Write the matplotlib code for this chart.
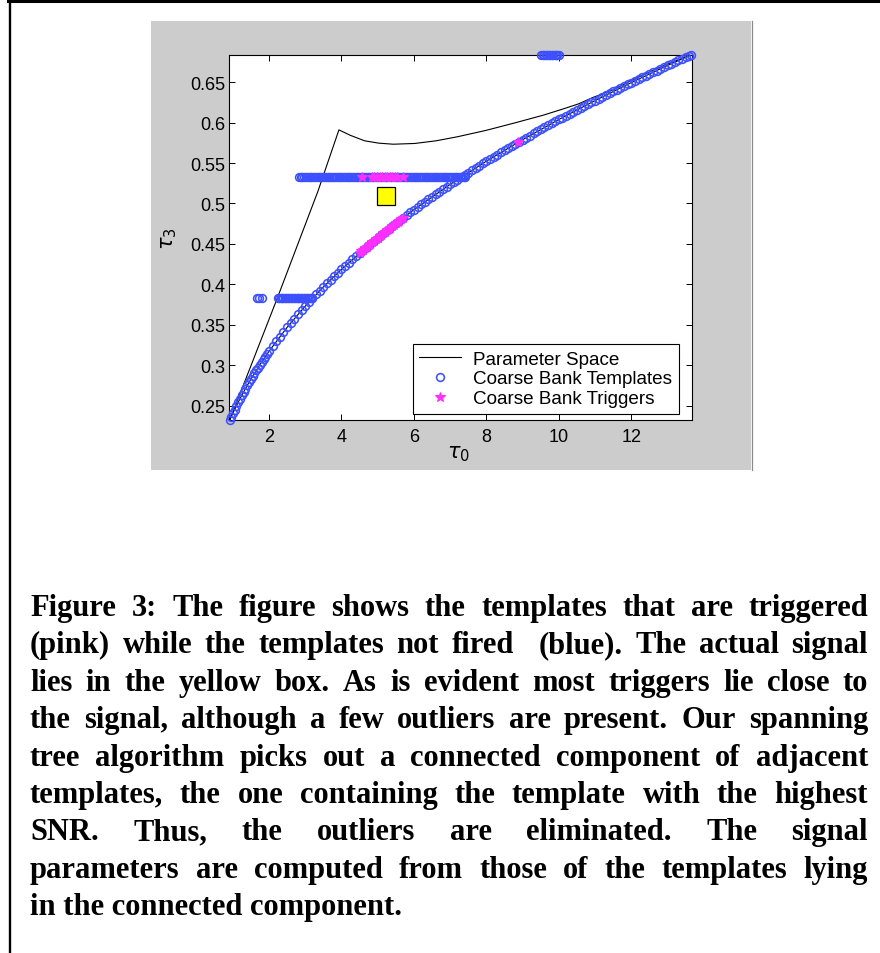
import matplotlib
matplotlib.use("Agg")
import matplotlib.pyplot as plt
from matplotlib.patches import Rectangle
from matplotlib.lines import Line2D

W, H = 880, 954

# ---------------------------------------------------------------------------
# Parameter-space boundary in the (tau0, tau3) plane
# upper / left edge of the allowed region
upper_tau0 = [0.92, 2.23, 3.35, 3.93, 4.25, 4.64, 5.03, 5.43, 6.02, 6.61,
              7.20, 7.99, 8.78, 9.57, 10.16, 10.55, 10.95, 11.50, 12.00, 12.50,
              13.00, 13.64]
upper_tau3 = [0.2325, 0.383, 0.515, 0.591, 0.5842, 0.5775, 0.5746, 0.5733,
              0.5742, 0.5775, 0.5825, 0.5904, 0.5996, 0.6092, 0.6175, 0.6233,
              0.6313, 0.6405, 0.6520, 0.6625, 0.6725, 0.6836]
# lower (equal-mass) edge
lower_tau0 = [0.92, 1.00, 1.10, 1.20, 1.35, 1.50, 1.75, 2.00, 2.50, 3.00, 3.50,
              4.00, 5.00, 6.00, 7.00, 8.00, 9.00, 10.00, 11.00, 12.00, 13.00, 13.64]
lower_tau3 = [0.2325, 0.2404, 0.2497, 0.2586, 0.2711, 0.2827, 0.3007, 0.3172,
              0.3468, 0.3731, 0.3968, 0.4186, 0.4576, 0.4923, 0.5236, 0.5523,
              0.5789, 0.6039, 0.6273, 0.6495, 0.6707, 0.6836]

# Coarse bank templates placed along the equal-mass edge
edge_tau0 = [0.92, 0.95, 1.00, 1.05, 1.10, 1.15, 1.20, 1.25, 1.30, 1.35, 1.40,
             1.45, 1.50, 1.55, 1.60, 1.65, 1.70, 1.75, 1.80, 1.85, 1.90, 1.95,
             2.00, 2.10, 2.20, 2.30, 2.40, 2.50, 2.60, 2.70, 2.80, 2.90, 3.00,
             3.10, 3.20, 3.30, 3.40, 3.50, 3.60, 3.70, 3.80, 3.90, 4.00, 4.10,
             4.20, 4.30, 4.40, 4.50, 4.60, 4.70, 4.80, 4.90, 5.00, 5.10, 5.20,
             5.30, 5.40, 5.50, 5.60, 5.70, 5.80, 5.90, 6.00, 6.10, 6.20, 6.30,
             6.40, 6.50, 6.60, 6.70, 6.80, 6.90, 7.00, 7.10, 7.20, 7.30, 7.40,
             7.50, 7.60, 7.70, 7.80, 7.90, 8.00, 8.10, 8.20, 8.30, 8.40, 8.50,
             8.60, 8.70, 8.80, 8.90, 9.00, 9.10, 9.20, 9.30, 9.40, 9.50, 9.60,
             9.70, 9.80, 9.90, 10.00, 10.10, 10.20, 10.30, 10.40, 10.50, 10.60,
             10.70, 10.80, 10.90, 11.00, 11.10, 11.20, 11.30, 11.40, 11.50,
             11.60, 11.70, 11.80, 11.90, 12.00, 12.10, 12.20, 12.30, 12.40,
             12.50, 12.60, 12.70, 12.80, 12.90, 13.00, 13.10, 13.20, 13.30,
             13.40, 13.50, 13.60, 13.64]
edge_tau3 = [0.2325, 0.2355, 0.2404, 0.2451, 0.2497, 0.2542, 0.2586, 0.2628,
             0.2670, 0.2711, 0.2750, 0.2789, 0.2827, 0.2865, 0.2901, 0.2937,
             0.2972, 0.3007, 0.3041, 0.3075, 0.3108, 0.3140, 0.3172, 0.3235,
             0.3295, 0.3354, 0.3412, 0.3468, 0.3523, 0.3577, 0.3629, 0.3680,
             0.3731, 0.3780, 0.3828, 0.3876, 0.3922, 0.3968, 0.4013, 0.4057,
             0.4101, 0.4143, 0.4186, 0.4227, 0.4268, 0.4308, 0.4348, 0.4388,
             0.4426, 0.4464, 0.4502, 0.4540, 0.4576, 0.4613, 0.4649, 0.4684,
             0.4719, 0.4754, 0.4789, 0.4823, 0.4856, 0.4890, 0.4923, 0.4955,
             0.4988, 0.5020, 0.5051, 0.5083, 0.5114, 0.5145, 0.5175, 0.5206,
             0.5236, 0.5265, 0.5295, 0.5324, 0.5353, 0.5382, 0.5411, 0.5439,
             0.5467, 0.5495, 0.5523, 0.5550, 0.5578, 0.5605, 0.5632, 0.5659,
             0.5685, 0.5711, 0.5738, 0.5764, 0.5789, 0.5815, 0.5840, 0.5866,
             0.5891, 0.5916, 0.5941, 0.5965, 0.5990, 0.6014, 0.6039, 0.6063,
             0.6087, 0.6110, 0.6134, 0.6158, 0.6181, 0.6204, 0.6227, 0.6250,
             0.6273, 0.6296, 0.6319, 0.6341, 0.6363, 0.6386, 0.6408, 0.6430,
             0.6452, 0.6474, 0.6495, 0.6517, 0.6539, 0.6560, 0.6581, 0.6602,
             0.6623, 0.6644, 0.6665, 0.6686, 0.6707, 0.6727, 0.6748, 0.6768,
             0.6789, 0.6809, 0.6829, 0.6836]

# Templates lying on horizontal rows (constant tau3)
row_mid_tau3 = 0.5325
row_mid_tau0 = [2.82, 2.87, 2.92, 2.97, 3.02, 3.07, 3.12, 3.17, 3.22, 3.27, 3.32,
                3.37, 3.42, 3.47, 3.52, 3.57, 3.62, 3.67, 3.72, 3.77, 3.82, 3.87,
                3.92, 3.97, 4.02, 4.07, 4.12, 4.17, 4.22, 4.27, 4.32, 4.37, 4.42,
                4.47, 4.52, 4.57, 4.62, 4.67, 4.72, 4.77, 4.82, 4.87, 4.92, 4.97,
                5.02, 5.07, 5.12, 5.17, 5.22, 5.27, 5.32, 5.37, 5.42, 5.47, 5.52,
                5.57, 5.62, 5.67, 5.72, 5.77, 5.82, 5.87, 5.92, 5.97, 6.02, 6.07,
                6.12, 6.17, 6.22, 6.27, 6.32, 6.37, 6.42, 6.47, 6.52, 6.57, 6.62,
                6.67, 6.72, 6.77, 6.82, 6.87, 6.92, 6.97, 7.02, 7.07, 7.12, 7.17,
                7.22, 7.27, 7.32, 7.37, 7.40]
row_low_tau3 = 0.383
row_low_tau0 = [1.66, 1.73, 1.80, 2.24, 2.28, 2.32, 2.36, 2.40, 2.44, 2.48, 2.52,
                2.56, 2.60, 2.64, 2.68, 2.72, 2.76, 2.80, 2.84, 2.88, 2.92, 2.96,
                3.00, 3.04, 3.08, 3.12, 3.16, 3.20]
row_top_tau3 = 0.6836
row_top_tau0 = [9.52, 9.56, 9.60, 9.64, 9.68, 9.72, 9.76, 9.80, 9.84, 9.88,
                9.92, 9.96, 9.99]

# Coarse bank triggers
trig_row_tau0 = [4.58, 4.84, 4.91, 4.98, 5.05, 5.12, 5.19, 5.26, 5.33, 5.40,
                 5.47, 5.53, 5.70]
trig_edge_tau0 = [4.50, 4.55, 4.60, 4.65, 4.70, 4.75, 4.80, 4.85, 4.90, 4.95,
                  5.00, 5.05, 5.10, 5.15, 5.20, 5.25, 5.30, 5.35, 5.40, 5.45,
                  5.50, 5.55, 5.60, 5.65, 5.70, 8.88]
trig_edge_tau3 = [0.4388, 0.4407, 0.4426, 0.4445, 0.4464, 0.4483, 0.4502,
                  0.4521, 0.4540, 0.4558, 0.4576, 0.4595, 0.4613, 0.4631,
                  0.4649, 0.4667, 0.4684, 0.4702, 0.4719, 0.4737, 0.4754,
                  0.4772, 0.4789, 0.4806, 0.4823, 0.5759]

# Injected signal
signal_tau0 = [5.24]
signal_tau3 = [0.509]

x_ticks = [2, 4, 6, 8, 10, 12]
y_ticks = [0.25, 0.30, 0.35, 0.40, 0.45, 0.50, 0.55, 0.60, 0.65]
y_tick_labels = ["0.25", "0.3", "0.35", "0.4", "0.45", "0.5", "0.55", "0.6", "0.65"]

legend_labels = ["Parameter Space", "Coarse Bank Templates", "Coarse Bank Triggers"]

caption_lines = [
    "Figure 3: The figure shows the templates that are triggered",
    "(pink) while the templates not fired  (blue). The actual signal",
    "lies in the yellow box. As is evident most triggers lie close to",
    "the signal, although a few outliers are present. Our spanning",
    "tree algorithm picks out a connected component of adjacent",
    "templates, the one containing the template with the highest",
    "SNR. Thus, the outliers are eliminated. The signal",
    "parameters are computed from those of the templates lying",
    "in the connected component.",
]

# ---------------------------------------------------------------------------
BLUE = "#3d50ff"
PINK = "#ff30ff"
SANS = ["Liberation Sans", "DejaVu Sans"]

fig = plt.figure(figsize=(W / 100, H / 100), dpi=100)
fig.patch.set_facecolor("white")

def fx(px):
    return px / W

def fy(py):
    return 1 - py / H

# grey figure panel and page frame
fig.add_artist(Rectangle((fx(151), fy(471)), fx(751) - fx(151), fy(22) - fy(471),
                         transform=fig.transFigure, facecolor="#cccccc",
                         edgecolor="none", zorder=0))
fig.add_artist(Line2D([fx(751.5), fx(751.5)], [fy(22), fy(471)], transform=fig.transFigure,
                      color="#8a8a8a", lw=0.9, zorder=1))
fig.add_artist(Line2D([fx(8), 1], [fy(1.5), fy(1.5)], transform=fig.transFigure,
                      color="black", lw=2.2, zorder=1))
fig.add_artist(Line2D([fx(9.5), fx(9.5)], [0, 1], transform=fig.transFigure,
                      color="black", lw=1.7, zorder=1))

ax = fig.add_axes([fx(229.3), fy(421), fx(691.5) - fx(229.3), fy(56) - fy(421)])
ax.set_facecolor("white")

h_line, = ax.plot(upper_tau0, upper_tau3, color="black", lw=0.8, zorder=2)
ax.plot(lower_tau0, lower_tau3, color="black", lw=0.8, zorder=2)

tmpl_style = dict(ls="none", marker="o", ms=5.6, mfc="none", mec=BLUE, mew=1.15,
                  clip_on=False, zorder=3)
h_tmpl, = ax.plot(edge_tau0, edge_tau3, **tmpl_style)
ax.plot(row_mid_tau0, [row_mid_tau3] * len(row_mid_tau0), **tmpl_style)
ax.plot(row_low_tau0, [row_low_tau3] * len(row_low_tau0), **tmpl_style)
ax.plot(row_top_tau0, [row_top_tau3] * len(row_top_tau0), **tmpl_style)

trig_style = dict(ls="none", marker="*", ms=7, color=PINK, mew=0.8,
                  clip_on=False, zorder=4)
h_trig, = ax.plot(trig_edge_tau0, trig_edge_tau3, **trig_style)
ax.plot(trig_row_tau0, [row_mid_tau3] * len(trig_row_tau0), **trig_style)

ax.plot(signal_tau0, signal_tau3, ls="none", marker="s", ms=12.3, mfc="#ffff00",
        mec="black", mew=0.9, zorder=5)

ax.set_xlim(0.905, 13.66)
ax.set_ylim(0.2323, 0.6836)
ax.set_xticks(x_ticks)
ax.set_xticklabels([str(v) for v in x_ticks])
ax.set_yticks(y_ticks)
ax.set_yticklabels(y_tick_labels)
ax.tick_params(direction="in", length=4, width=0.7, top=True, right=True,
               labelsize=13, colors="black")
ax.tick_params(axis="x", pad=6)
ax.tick_params(axis="y", pad=3)
for lab in ax.get_xticklabels() + ax.get_yticklabels():
    lab.set_family(SANS)
for sp in ax.spines.values():
    sp.set_linewidth(0.8)
    sp.set_color("black")

ax.set_xlabel(r"$\tau_0$", fontsize=15)
ax.xaxis.set_label_coords(0.495, -0.062)
ax.set_ylabel(r"$\tau_3$", fontsize=15)
ax.yaxis.set_label_coords(-0.108, 0.50)

leg = ax.legend([h_line, h_tmpl, h_trig], legend_labels, loc="upper left",
                bbox_to_anchor=(0.3966, 0.2088), borderaxespad=0, frameon=True,
                fancybox=False, framealpha=1, edgecolor="black", numpoints=1,
                prop={"family": SANS, "size": 13.6}, handlelength=2.2,
                handletextpad=0.65, borderpad=0.35, labelspacing=0.14)
leg.get_frame().set_linewidth(0.8)

# caption: justified bold serif text
cap_font = dict(family=["Liberation Serif", "DejaVu Serif"], weight="bold", size=22)
left_px, right_px = 30, 868
base0, step = 616, 37.4
renderer = fig.canvas.get_renderer()
for i, line in enumerate(caption_lines):
    y = fy(base0 + i * step)
    if i == len(caption_lines) - 1:
        fig.text(fx(left_px), y, line, va="baseline", ha="left", **cap_font)
        continue
    words = line.split(" ")
    texts = [fig.text(0, y, w, va="baseline", ha="left", **cap_font) for w in words]
    widths = [t.get_window_extent(renderer).width if w else 0.0
              for t, w in zip(texts, words)]
    gap = (right_px - left_px - sum(widths)) / (len(words) - 1)
    x = left_px
    for t, w in zip(texts, widths):
        t.set_x(fx(x))
        x += w + gap

fig.savefig("out.png", dpi=100, facecolor="white")
